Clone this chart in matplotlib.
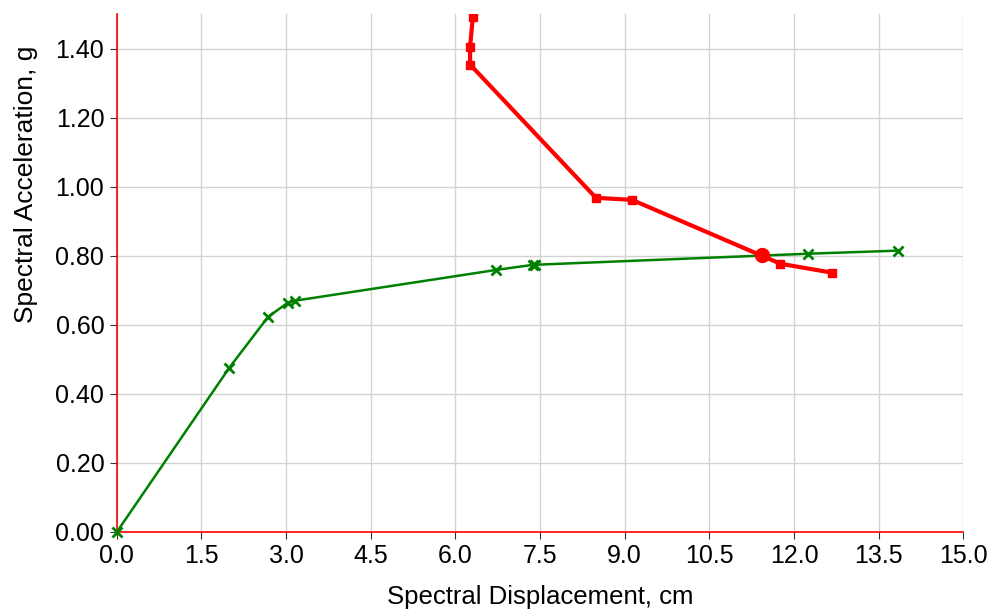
import matplotlib
matplotlib.use("Agg")
import matplotlib.pyplot as plt

plt.rcParams['font.family'] = ['Liberation Sans', 'DejaVu Sans']

# capacity curve (green)
cap_x = [0.0, 1.99, 2.68, 3.03, 3.16, 6.72, 7.38, 7.41, 12.25, 13.85]
cap_y = [0.0, 0.475, 0.623, 0.664, 0.670, 0.759, 0.774, 0.774, 0.806, 0.815]

# demand curve (red)
dem_x = [6.33, 6.31, 6.26, 6.26, 8.49, 9.13, 11.76, 12.68]
dem_y = [1.60, 1.493, 1.406, 1.354, 0.968, 0.962, 0.777, 0.751]

# performance point
perf_x = [11.44]
perf_y = [0.803]

xticks = [0.0, 1.5, 3.0, 4.5, 6.0, 7.5, 9.0, 10.5, 12.0, 13.5, 15.0]
yticks = [0.0, 0.2, 0.4, 0.6, 0.8, 1.0, 1.2, 1.4]

fig = plt.figure(figsize=(9.9, 6.15), dpi=100)
ax = fig.add_axes([0.118, 0.135, 0.855, 0.842])

ax.plot(cap_x, cap_y, color="green", lw=1.8, marker="x", ms=7, mew=2, zorder=3, clip_on=False)
ax.plot(dem_x, dem_y, color="red", lw=3, marker="s", ms=6, zorder=4)
ax.plot(perf_x, perf_y, color="red", marker="o", ms=10, ls="none", zorder=5)

ax.set_xlim(0, 15)
ax.set_ylim(0, 1.5)
ax.set_xticks(xticks)
ax.set_xticklabels(["%.1f" % v for v in xticks])
ax.set_yticks(yticks)
ax.set_yticklabels(["%.2f" % v for v in yticks])
ax.grid(True, color="#d3d3d3", lw=1)
ax.set_axisbelow(True)

for s in ["top", "right"]:
    ax.spines[s].set_visible(False)
for s in ["left", "bottom"]:
    ax.spines[s].set_color("red")
    ax.spines[s].set_linewidth(1.2)

ax.tick_params(labelsize=18, length=5, color="#333333", pad=4)
ax.set_xlabel("Spectral Displacement, cm", fontsize=18.5, labelpad=12)
ax.set_ylabel("Spectral Acceleration, g", fontsize=19)
ax.yaxis.set_label_coords(-0.093, 0.672)

fig.savefig("out.png", dpi=100)
